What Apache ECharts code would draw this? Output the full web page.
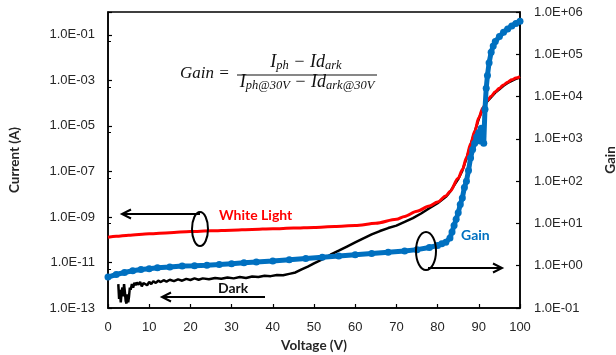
<!DOCTYPE html>
<html><head><meta charset="utf-8">
<script src="https://cdn.jsdelivr.net/npm/echarts@6/dist/echarts.min.js"></script>
<style>html,body{margin:0;padding:0;background:#fff}#c{width:616px;height:355px}</style>
</head><body><div id="c"></div>
<script>
// ---- data ----
const whiteV = [0,2,5,10,15,20,25,30,35,40,45,50,55,60,65,70,72,75,78,80,82,83,85,86,87,88,89,90,91,92,93,94,95,96,97,98,99,100];
const whiteI = [1.29e-10,1.41e-10,1.58e-10,1.82e-10,2.04e-10,2.29e-10,2.45e-10,2.63e-10,2.82e-10,3.02e-10,3.24e-10,3.47e-10,3.8e-10,4.17e-10,5.25e-10,7.9e-10,1.05e-9,1.78e-9,3.0e-9,4.57e-9,8.3e-9,1.32e-8,5.0e-8,1.17e-7,3.98e-7,1.58e-6,5.6e-6,2.24e-5,6.3e-5,1.26e-4,2.0e-4,3.16e-4,4.47e-4,6.3e-4,8.3e-4,1.05e-3,1.26e-3,1.45e-3];

const darkV = [2.5,2.7,2.9,3.1,3.3,3.5,3.7,3.9,4.1,4.3,4.5,4.7,4.9,5.1,5.3,5.5,5.8,6.1,6.4,6.7,7.0,7.4,7.8,8.2,8.6,9.0,9.5,10,10.5,11,11.6,12.2,12.8,13.5,14.2,15,16,17,18,19,20,21,22,23,24.5,26,27.5,29,30.5,32,33.5,35,36.5,38,39.5,41,42.5,44,45.5,47,48.5,50,52,54,56,58,60,62,64,66,68,70,72,74,76,78,80,82,83,85,86,87,88,89,90,91,92,93,94,95,96,97,98,99,100];
const darkI = [1.12e-12,2.5e-13,6.3e-13,1.78e-13,5.0e-13,7.9e-13,3.2e-13,1.12e-12,5.0e-13,2.0e-13,1.58e-13,4.0e-13,1.78e-13,3.2e-13,7.9e-13,6.3e-13,1.12e-12,7.9e-13,1.26e-12,1.0e-12,1.32e-12,1.05e-12,1.41e-12,8.9e-13,1.26e-12,1.38e-12,1.0e-12,1.41e-12,1.12e-12,1.51e-12,1.26e-12,1.58e-12,1.38e-12,1.66e-12,1.45e-12,1.74e-12,1.51e-12,1.82e-12,1.58e-12,1.91e-12,1.7e-12,2.0e-12,1.74e-12,2.0e-12,1.82e-12,2.09e-12,1.91e-12,2.19e-12,2.0e-12,2.29e-12,2.09e-12,2.4e-12,2.29e-12,2.63e-12,2.51e-12,2.82e-12,2.75e-12,3.16e-12,3.63e-12,5.0e-12,6.6e-12,9.1e-12,1.35e-11,2.19e-11,3.3e-11,5.0e-11,7.6e-11,1.15e-10,1.7e-10,2.4e-10,3.24e-10,4.17e-10,6.0e-10,8.9e-10,1.41e-9,2.4e-9,4.0e-9,7.6e-9,1.26e-8,4.57e-8,1.07e-7,3.63e-7,1.45e-6,5.4e-6,2.04e-5,5.75e-5,1.15e-4,1.82e-4,2.88e-4,4.07e-4,5.75e-4,7.6e-4,9.5e-4,1.15e-3,1.32e-3];

const gainV = [0,2,4,6,8,10,12,15,18,21,24,27,30,33,36,40,44,48,52,56,60,64,68,72,75,78,80,81,82,83,83.5,84,84.5,85,85.5,86,86.5,87,87.5,88,88.5,89,89.5,90,90.3,90.6,90.9,91.2,91.5,91.8,92.1,92.5,93,93.5,94,95,96,97,98,99,100];
const gainG = [0.54,0.62,0.69,0.76,0.81,0.85,0.89,0.93,0.98,1.0,1.03,1.07,1.12,1.17,1.23,1.3,1.38,1.48,1.58,1.7,1.82,1.95,2.09,2.24,2.4,2.69,3.02,3.3,3.6,4.5,6.3,8.9,12.6,17.8,28,40,71,100,178,355,560,790,1120,1410,890,1780,1120,790,5000,15800,31600,63000,112000,158000,200000,263000,331000,398000,468000,537000,603000];

const currentTickLabels = ['1.0E-13','1.0E-11','1.0E-09','1.0E-07','1.0E-05','1.0E-03','1.0E-01'];
const gainTickLabels = ['1.0E-01','1.0E+00','1.0E+01','1.0E+02','1.0E+03','1.0E+04','1.0E+05','1.0E+06'];

// ---- chart ----
const pick = (labels) => (v) => labels.find(l => Math.abs(Math.log10(Number(l)) - Math.log10(v)) < 0.01) || '';
const zip = (a, b) => a.map((x, i) => [x, b[i]]);
const FONT = 'Lato';
const TICKFONT = 'Liberation Sans';
const LABELCOLOR = '#262626';
const axisLineStyle = {color: '#000', width: 1.5};

const chart = echarts.init(document.getElementById('c'), null, {renderer: 'canvas'});
chart.setOption({
  animation: false,
  backgroundColor: '#fff',
  grid: {left: 108, right: 96, top: 12, bottom: 47, show: true, borderColor: '#000', borderWidth: 1.5, backgroundColor: 'transparent', outerBoundsMode: 'none', containLabel: false},
  xAxis: {
    type: 'value', min: 0, max: 100, interval: 10,
    name: 'Voltage (V)', nameLocation: 'middle', nameGap: 31,
    nameTextStyle: {fontFamily: FONT, fontWeight: 'bold', fontSize: 13.5, color: LABELCOLOR},
    axisLine: {lineStyle: axisLineStyle},
    axisTick: {inside: true, length: 4, lineStyle: {color: '#000', width: 1.2}},
    axisLabel: {fontFamily: TICKFONT, fontSize: 13, color: LABELCOLOR, margin: 13},
    splitLine: {show: false}
  },
  yAxis: [{
    type: 'log', logBase: 10, min: 1e-13, max: 1, interval: 2,
    name: 'Current (A)', nameLocation: 'middle', nameGap: 86, nameRotate: 90,
    nameTextStyle: {fontFamily: FONT, fontWeight: 'bold', fontSize: 13.5, color: LABELCOLOR},
    axisLine: {show: true, lineStyle: axisLineStyle},
    axisTick: {inside: true, length: 4, lineStyle: {color: '#000', width: 1.2}},
    minorTick: {show: true, splitNumber: 2, length: 3, lineStyle: {color: '#000', width: 1}},
    axisLabel: {fontFamily: TICKFONT, fontSize: 13, color: LABELCOLOR, margin: 13, formatter: pick(currentTickLabels), showMaxLabel: true, showMinLabel: true},
    splitLine: {show: false}
  }, {
    type: 'log', logBase: 10, min: 0.1, max: 1e6, interval: 1,
    name: 'Gain', nameLocation: 'middle', nameGap: 84, nameRotate: 90,
    nameTextStyle: {fontFamily: FONT, fontWeight: 'bold', fontSize: 13.5, color: LABELCOLOR},
    axisLine: {show: true, lineStyle: axisLineStyle},
    axisTick: {inside: true, length: 4, lineStyle: {color: '#000', width: 1.2}},
    axisLabel: {fontFamily: TICKFONT, fontSize: 13, color: LABELCOLOR, margin: 14, formatter: pick(gainTickLabels), showMaxLabel: true, showMinLabel: true},
    splitLine: {show: false}
  }],
  series: [{
    name: 'Dark', type: 'line', yAxisIndex: 0, z: 2, data: zip(darkV, darkI),
    showSymbol: false, lineStyle: {color: '#000', width: 2.5}, itemStyle: {color: '#000'}
  }, {
    name: 'White Light', type: 'line', yAxisIndex: 0, z: 3, data: zip(whiteV, whiteI),
    showSymbol: false, smooth: 0.3, smoothMonotone: 'x', lineStyle: {color: '#FF0000', width: 3}, itemStyle: {color: '#FF0000'}
  }, {
    name: 'Gain', type: 'line', yAxisIndex: 1, z: 4, data: zip(gainV, gainG),
    symbol: 'circle', symbolSize: 7, showAllSymbol: true,
    lineStyle: {color: '#0070C0', width: 5}, itemStyle: {color: '#0070C0'}
  }],
  graphic: [
    // formula
    {type: 'text', x: 180, y: 74, z: 10, style: {text: 'Gain =', font: 'italic 17px "Liberation Serif"', fill: '#111', align: 'left', verticalAlign: 'middle'}},
    {type: 'text', x: 306, y: 62.5, z: 10, style: {
      text: '{m|I}{s|ph}{m| − Id}{s|ark}', align: 'center', verticalAlign: 'middle', fill: '#111',
      rich: {m: {font: 'italic 18px "Liberation Serif"', lineHeight: 20, fill: '#111'}, s: {font: 'italic 12.5px "Liberation Serif"', lineHeight: 10, verticalAlign: 'bottom', fill: '#111'}}}},
    {type: 'line', z: 10, shape: {x1: 237, y1: 75, x2: 377, y2: 75}, style: {stroke: '#111', lineWidth: 1.2}},
    {type: 'text', x: 307, y: 82.5, z: 10, style: {
      text: '{m|I}{s|ph@30V}{m| − Id}{s|ark@30V}', align: 'center', verticalAlign: 'middle', fill: '#111',
      rich: {m: {font: 'italic 18px "Liberation Serif"', lineHeight: 20, fill: '#111'}, s: {font: 'italic 12.5px "Liberation Serif"', lineHeight: 10, verticalAlign: 'bottom', fill: '#111'}}}},
    // White light annotation
    {type: 'ellipse', z: 10, shape: {cx: 200, cy: 229, rx: 8, ry: 17}, style: {fill: 'none', stroke: '#000', lineWidth: 2}},
    {type: 'polyline', z: 10, shape: {points: [[200, 214], [122, 214]]}, style: {stroke: '#000', lineWidth: 2, fill: 'none'}},
    {type: 'polyline', z: 10, shape: {points: [[131, 209.5], [122, 214], [131, 218.5]]}, style: {stroke: '#000', lineWidth: 2, fill: 'none'}},
    {type: 'text', x: 219, y: 215, z: 10, style: {text: 'White Light', font: 'bold 14px Lato', fill: '#FF0000', align: 'left', verticalAlign: 'middle'}},
    // Dark annotation
    {type: 'text', x: 218, y: 288, z: 10, style: {text: 'Dark', font: 'bold 14px Lato', fill: '#111', align: 'left', verticalAlign: 'middle'}},
    {type: 'polyline', z: 10, shape: {points: [[265, 297], [162, 297]]}, style: {stroke: '#000', lineWidth: 2, fill: 'none'}},
    {type: 'polyline', z: 10, shape: {points: [[171, 292.5], [162, 297], [171, 301.5]]}, style: {stroke: '#000', lineWidth: 2, fill: 'none'}},
    // Gain annotation
    {type: 'ellipse', z: 10, shape: {cx: 426, cy: 251, rx: 10, ry: 19}, style: {fill: 'none', stroke: '#000', lineWidth: 2}},
    {type: 'polyline', z: 10, shape: {points: [[428, 268], [502, 268]]}, style: {stroke: '#000', lineWidth: 2, fill: 'none'}},
    {type: 'polyline', z: 10, shape: {points: [[493, 263.5], [502, 268], [493, 272.5]]}, style: {stroke: '#000', lineWidth: 2, fill: 'none'}},
    {type: 'text', x: 461, y: 235, z: 10, style: {text: 'Gain', font: 'bold 14px Lato', fill: '#0070C0', align: 'left', verticalAlign: 'middle'}}
  ]
});
</script>
</body></html>
